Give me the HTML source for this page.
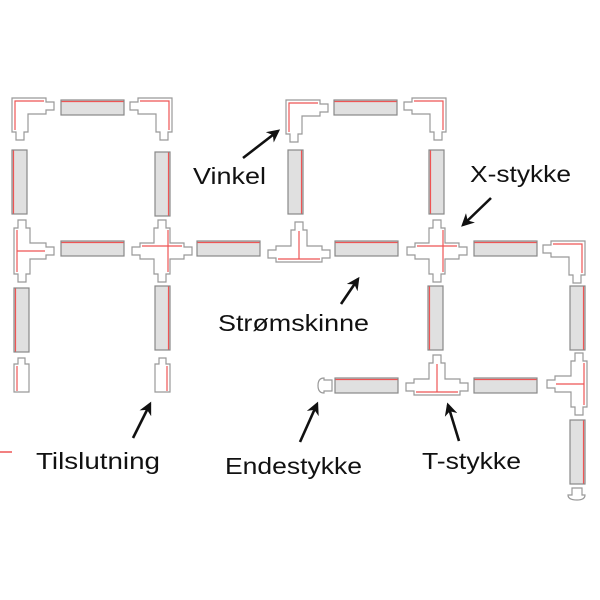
<!DOCTYPE html>
<html><head><meta charset="utf-8"><style>
html,body{margin:0;padding:0;background:#fff;}
svg{display:block;}
text{font-family:"Liberation Sans",sans-serif;font-size:23px;fill:#111;}
</style></head><body>
<svg width="600" height="600" viewBox="0 0 600 600" xmlns="http://www.w3.org/2000/svg">
<defs>
<g id="corner">
<polygon points="0,0 34,0 34,4 42,4 42,12 34,12 34,16 16,16 16,34 12,34 12,42 4,42 4,34 0,34" fill="#fff" stroke="#999" stroke-width="1.2"/>
<polyline points="3,32 3,3 32,3" fill="none" stroke="#e55" stroke-width="1.2"/>
</g>
<g id="tee">
<polygon points="4,0 12,0 12,8 16,8 16,23 32,23 32,27 40,27 40,35 32,35 32,39 16,39 16,54 12,54 12,62 4,62 4,54 0,54 0,8 4,8" fill="#fff" stroke="#999" stroke-width="1.2"/>
<polyline points="3,10 3,52" fill="none" stroke="#e55" stroke-width="1.2"/>
<polyline points="3,31 31,31" fill="none" stroke="#e55" stroke-width="1.2"/>
</g>
<g id="cross">
<polygon points="26,0 34,0 34,8 38,8 38,23 52,23 52,27 60,27 60,35 52,35 52,39 38,39 38,54 34,54 34,62 26,62 26,54 22,54 22,39 8,39 8,35 0,35 0,27 8,27 8,23 22,23 22,8 26,8" fill="#fff" stroke="#999" stroke-width="1.2"/>
<polyline points="10,26 50,26" fill="none" stroke="#e55" stroke-width="1.2"/>
<polyline points="36,10 36,52" fill="none" stroke="#e55" stroke-width="1.2"/>
</g>
<g id="cap">
<polygon points="4,0 11,0 11,6 15,6 15,34 0,34 0,6 4,6" fill="#fff" stroke="#999" stroke-width="1.2"/>
</g>
<g id="hr"><rect x="0" y="0" width="63" height="15" fill="#e0e0e0" stroke="#888" stroke-width="1.2"/><line x1="0.5" y1="1.5" x2="62.5" y2="1.5" stroke="#e55" stroke-width="1.2"/></g>
<g id="vrR"><rect x="0" y="0" width="15" height="64" fill="#e0e0e0" stroke="#888" stroke-width="1.2"/><line x1="13.5" y1="0.5" x2="13.5" y2="63.5" stroke="#e55" stroke-width="1.2"/></g>
<g id="vrL"><rect x="0" y="0" width="15" height="64" fill="#e0e0e0" stroke="#888" stroke-width="1.2"/><line x1="1.5" y1="0.5" x2="1.5" y2="63.5" stroke="#e55" stroke-width="1.2"/></g>
<marker id="ah" viewBox="0 0 10 10" refX="8" refY="5" markerWidth="5" markerHeight="5" orient="auto"><path d="M0,0 L10,5 L0,10 L3,5 Z" fill="#111"/></marker>
</defs>

<!-- rails -->
<use href="#hr" x="61" y="100"/>
<use href="#hr" x="61" y="241"/>
<use href="#hr" x="197" y="241"/>
<use href="#hr" x="334" y="100"/>
<use href="#hr" x="335" y="241"/>
<use href="#hr" x="474" y="241"/>
<use href="#hr" x="335" y="378"/>
<use href="#hr" x="474" y="378"/>
<use href="#vrL" x="12" y="150"/>
<use href="#vrR" x="155" y="152"/>
<use href="#vrL" x="14" y="288"/>
<use href="#vrR" x="155" y="286"/>
<use href="#vrR" x="288" y="150"/>
<use href="#vrL" x="429" y="150"/>
<use href="#vrL" x="428" y="286"/>
<use href="#vrR" x="570" y="286"/>
<use href="#vrR" x="570" y="420"/>

<!-- corners -->
<use href="#corner" transform="translate(12,98)"/>
<use href="#corner" transform="translate(172,98) scale(-1,1)"/>
<use href="#corner" transform="translate(286,100)"/>
<use href="#corner" transform="translate(446,98) scale(-1,1)"/>
<use href="#corner" transform="translate(585,241) scale(-1,1)"/>

<!-- tees -->
<use href="#tee" transform="translate(14,220)"/>
<use href="#tee" transform="translate(268,262) rotate(-90)"/>
<use href="#tee" transform="translate(406,395) rotate(-90)"/>
<use href="#tee" transform="translate(587,353) scale(-1,1)"/>

<!-- crosses -->
<use href="#cross" transform="translate(132,220)"/>
<use href="#cross" transform="translate(407,220)"/>

<!-- caps -->
<use href="#cap" transform="translate(14,358)"/>
<line x1="17" y1="366" x2="17" y2="391" stroke="#e55" stroke-width="1.2"/>
<use href="#cap" transform="translate(155,358)"/>
<line x1="167" y1="366" x2="167" y2="391" stroke="#e55" stroke-width="1.2"/>

<!-- endestykke -->
<path d="M332,380 L324,380 L324,378 Q318,378 318,385.5 Q318,393 324,393 L324,391 L332,391 Z" fill="#fff" stroke="#999" stroke-width="1.2"/>
<path d="M572,488 L582,488 L582,495 L585,495 Q585,500 577,500 Q568,500 568,495 L572,495 Z" fill="#fff" stroke="#999" stroke-width="1.2"/>

<!-- red legend line -->
<line x1="0" y1="452" x2="12" y2="452" stroke="#e55" stroke-width="1.5"/>

<!-- arrows -->
<g stroke="#111" stroke-width="2.6" fill="none" marker-end="url(#ah)">
<line x1="243" y1="158" x2="278" y2="131"/>
<line x1="491" y1="198" x2="463" y2="225"/>
<line x1="341" y1="304" x2="358" y2="279"/>
<line x1="133" y1="438" x2="150" y2="404"/>
<line x1="300" y1="442" x2="317" y2="404"/>
<line x1="459" y1="441" x2="448" y2="405"/>
</g>

<!-- labels -->
<text x="193" y="184" textLength="73" lengthAdjust="spacingAndGlyphs">Vinkel</text>
<text x="470" y="182" textLength="101" lengthAdjust="spacingAndGlyphs">X-stykke</text>
<text x="218" y="331" textLength="151" lengthAdjust="spacingAndGlyphs">Strømskinne</text>
<text x="36" y="469" textLength="124" lengthAdjust="spacingAndGlyphs">Tilslutning</text>
<text x="225" y="474" textLength="137" lengthAdjust="spacingAndGlyphs">Endestykke</text>
<text x="422" y="469" textLength="99" lengthAdjust="spacingAndGlyphs">T-stykke</text>
</svg>
</body></html>
